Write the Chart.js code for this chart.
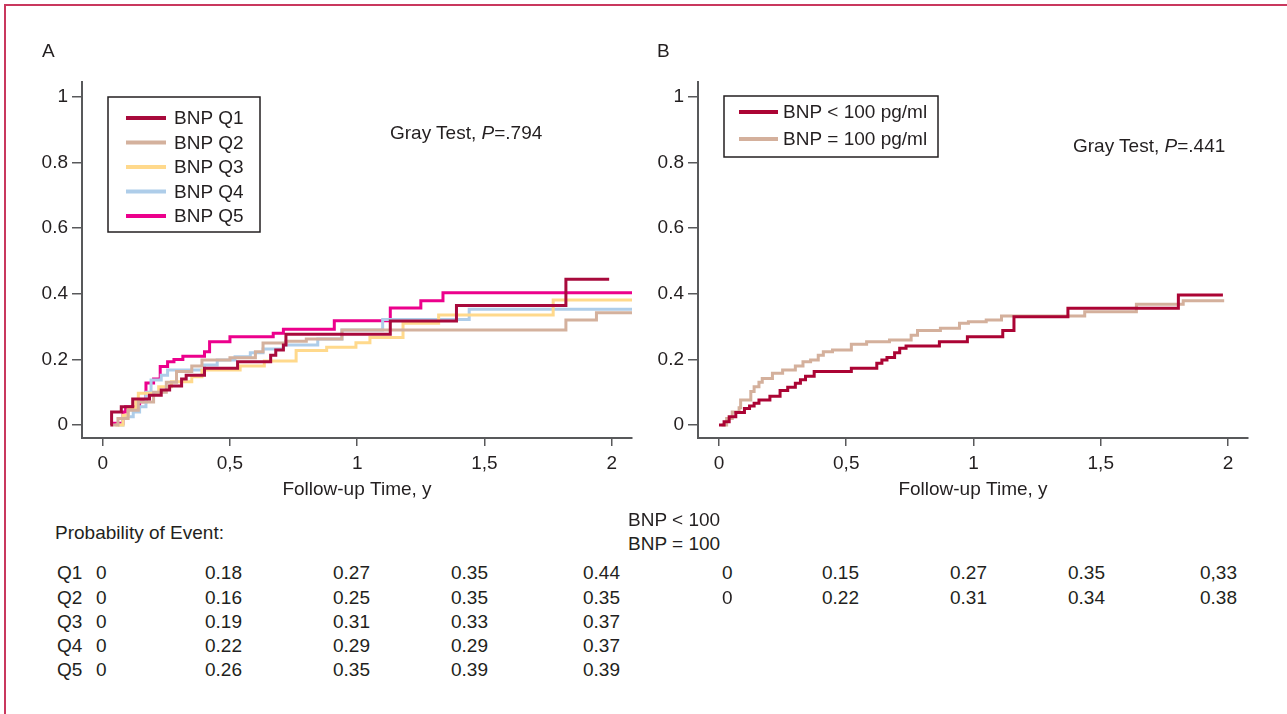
<!DOCTYPE html>
<html>
<head>
<meta charset="utf-8">
<script src="https://cdn.jsdelivr.net/npm/chart.js@4.4.1/dist/chart.umd.min.js"></script>
<style>
  body { margin: 0; background: #fff; width: 1287px; height: 714px; overflow: hidden; position: relative;
         font-family: 'Liberation Sans', Arial, sans-serif; color: #231f20; }
  .frame { position: absolute; left: 4px; top: 4px; width: 1300px; height: 730px; border: 2px solid #c9385e; }
  canvas { position: absolute; top: 0; }
  .txt { position: absolute; font-size: 19px; line-height: 24px; white-space: nowrap; }
</style>
</head>
<body>
<div class="frame"></div>
<canvas id="chartA" width="660" height="510" style="left:0px"></canvas>
<canvas id="chartB" width="660" height="510" style="left:616px"></canvas>
<div id="texts"></div>
<script>
// axis ticks
const xTicks = [0, 0.5, 1, 1.5, 2]
const xTickLabels = ['0', '0,5', '1', '1,5', '2']
const yTicks = [0, 0.2, 0.4, 0.6, 0.8, 1]
const yTickLabels = ['0', '0.2', '0.4', '0.6', '0.8', '1']

// panel A: BNP quintiles, cumulative incidence (time in years)
const quartileNames = ['BNP Q1', 'BNP Q2', 'BNP Q3', 'BNP Q4', 'BNP Q5']
const quartileColors = ['#a80a3c', '#d4b19d', '#ffd98c', '#aecde9', '#ec008c']
const q1Time = [0.03, 0.035, 0.073, 0.118, 0.184, 0.23, 0.263, 0.31, 0.328, 0.4, 0.53, 0.66, 0.68, 0.71, 0.72, 1.13, 1.39, 1.82, 1.99]
const q1Prob = [0.0, 0.04, 0.056, 0.079, 0.091, 0.107, 0.119, 0.14, 0.152, 0.173, 0.193, 0.213, 0.229, 0.244, 0.277, 0.317, 0.364, 0.444, 0.444]
const q2Time = [0.04, 0.06, 0.1, 0.14, 0.2, 0.25, 0.29, 0.35, 0.39, 0.5, 0.6, 0.63, 0.72, 0.8, 0.94, 1.82, 1.94, 2.09]
const q2Prob = [0.0, 0.02, 0.045, 0.07, 0.1, 0.13, 0.163, 0.18, 0.198, 0.205, 0.223, 0.25, 0.255, 0.262, 0.29, 0.32, 0.342, 0.342]
const q3Time = [0.05, 0.08, 0.1, 0.13, 0.14, 0.22, 0.27, 0.35, 0.39, 0.54, 0.635, 0.76, 0.88, 0.995, 1.05, 1.18, 1.32, 1.77, 2.1]
const q3Prob = [0.0, 0.03, 0.05, 0.071, 0.097, 0.117, 0.132, 0.147, 0.168, 0.18, 0.195, 0.227, 0.237, 0.251, 0.267, 0.31, 0.335, 0.381, 0.381]
const q4Time = [0.06, 0.08, 0.12, 0.145, 0.17, 0.19, 0.23, 0.255, 0.4, 0.45, 0.52, 0.58, 0.63, 0.71, 0.845, 0.94, 1.1, 1.44, 2.08]
const q4Prob = [0.0, 0.025, 0.04, 0.056, 0.1, 0.137, 0.152, 0.168, 0.183, 0.198, 0.208, 0.22, 0.232, 0.244, 0.262, 0.29, 0.322, 0.353, 0.353]
const q5Time = [0.035, 0.08, 0.09, 0.145, 0.17, 0.2, 0.226, 0.255, 0.28, 0.315, 0.4, 0.42, 0.5, 0.67, 0.71, 0.91, 1.13, 1.25, 1.337, 2.1]
const q5Prob = [0.005, 0.04, 0.056, 0.071, 0.128, 0.14, 0.178, 0.193, 0.2, 0.21, 0.223, 0.254, 0.269, 0.28, 0.292, 0.318, 0.357, 0.379, 0.403, 0.403]

// panel B: BNP cut at 100 pg/ml
const bnpNames = ['BNP < 100 pg/ml', 'BNP = 100 pg/ml']
const bnpColors = ['#ab0434', '#d4b09c']
const lowTime = [0.0, 0.02, 0.04, 0.066, 0.1, 0.12, 0.138, 0.157, 0.2, 0.24, 0.27, 0.3, 0.32, 0.34, 0.374, 0.52, 0.62, 0.64, 0.66, 0.69, 0.71, 0.735, 0.866, 0.976, 1.115, 1.159, 1.371, 1.805, 1.98]
const lowProb = [0.0, 0.01, 0.025, 0.038, 0.05, 0.058, 0.066, 0.076, 0.088, 0.105, 0.115, 0.127, 0.138, 0.149, 0.163, 0.173, 0.188, 0.198, 0.206, 0.22, 0.234, 0.241, 0.254, 0.269, 0.288, 0.33, 0.356, 0.396, 0.396]
const highTime = [0.01, 0.03, 0.052, 0.079, 0.085, 0.125, 0.138, 0.157, 0.17, 0.21, 0.25, 0.3, 0.33, 0.36, 0.39, 0.41, 0.446, 0.52, 0.58, 0.67, 0.755, 0.78, 0.87, 0.945, 0.98, 1.05, 1.11, 1.437, 1.64, 1.824, 1.985]
const highProb = [0.0, 0.02, 0.04, 0.053, 0.076, 0.102, 0.117, 0.13, 0.142, 0.158, 0.168, 0.18, 0.193, 0.198, 0.213, 0.223, 0.229, 0.246, 0.254, 0.259, 0.274, 0.288, 0.295, 0.31, 0.315, 0.32, 0.332, 0.345, 0.368, 0.379, 0.379]

// probability-of-event tables
const tableRowsA = ['Q1', 'Q2', 'Q3', 'Q4', 'Q5']
const tableValuesA = [
    ['0', '0.18', '0.27', '0.35', '0.44'],
    ['0', '0.16', '0.25', '0.35', '0.35'],
    ['0', '0.19', '0.31', '0.33', '0.37'],
    ['0', '0.22', '0.29', '0.29', '0.37'],
    ['0', '0.26', '0.35', '0.39', '0.39']
]
const tableRowsB = ['BNP < 100', 'BNP = 100']
const tableValuesB = [
    ['0', '0.15', '0.27', '0.35', '0,33'],
    ['0', '0.22', '0.31', '0.34', '0.38']
]

const FONT = "'Liberation Sans', Arial, sans-serif"
const INK = '#231f20'
const AXIS = '#58595b'

Chart.defaults.font.family = FONT
Chart.defaults.font.size = 19
Chart.defaults.color = INK

const toPoints = (times, probs) => times.map((t, i) => ({ x: t, y: probs[i] }))

// legend drawn as a framed box inside the plot
const boxLegend = {
    id: 'boxLegend',
    afterDraw(chart, args, opts) {
        const ctx = chart.ctx
        ctx.save()
        ctx.strokeStyle = INK
        ctx.lineWidth = 1.5
        ctx.strokeRect(opts.left, opts.top, opts.width, opts.height)
        ctx.font = `19px ${FONT}`
        ctx.textBaseline = 'middle'
        chart.data.datasets.forEach((ds, i) => {
            const y = opts.firstRow + i * opts.rowGap
            ctx.strokeStyle = ds.borderColor
            ctx.lineWidth = 4
            ctx.beginPath()
            ctx.moveTo(opts.lineX, y)
            ctx.lineTo(opts.lineX + opts.lineLen, y)
            ctx.stroke()
            ctx.fillStyle = INK
            ctx.fillText(ds.label, opts.textX, y + 1)
        })
        ctx.restore()
    }
}

const makeOptions = (xMin, xMax, legendOpts) => ({
    responsive: false,
    animation: false,
    devicePixelRatio: 1,
    layout: { padding: { left: 0, top: 82, right: 28, bottom: 0 } },
    plugins: { legend: { display: false }, tooltip: { enabled: false }, boxLegend: legendOpts },
    scales: {
        x: {
            type: 'linear',
            min: xMin,
            max: xMax,
            afterBuildTicks: s => { s.ticks = xTicks.map(v => ({ value: v })) },
            afterFit: s => { s.height = 72 },
            ticks: { callback: (v, i) => xTickLabels[i], padding: 6, maxRotation: 0, color: INK },
            grid: { drawOnChartArea: false, tickLength: 8, color: AXIS, lineWidth: 1.5 },
            border: { color: AXIS, width: 2 },
            title: { display: true, text: 'Follow-up Time, y', color: INK, padding: { top: 0, bottom: 9 } }
        },
        y: {
            type: 'linear',
            min: -0.0396,
            max: 1.0457,
            afterBuildTicks: s => { s.ticks = yTicks.map(v => ({ value: v })) },
            afterFit: s => { s.width = 82 },
            ticks: { callback: (v, i) => yTickLabels[i], padding: 4, color: INK },
            grid: { drawOnChartArea: false, tickLength: 10, color: AXIS, lineWidth: 1.5 },
            border: { color: AXIS, width: 2 }
        }
    }
})

// 'before': hold the previous value, then jump at the event time
const stepLine = (label, color, times, probs) => ({
    label: label,
    data: toPoints(times, probs),
    borderColor: color,
    borderWidth: 3,
    stepped: 'before',
    pointRadius: 0,
    fill: false
})

new Chart(document.getElementById('chartA'), {
    type: 'line',
    data: {
        datasets: [
            stepLine(quartileNames[0], quartileColors[0], q1Time, q1Prob),
            stepLine(quartileNames[1], quartileColors[1], q2Time, q2Prob),
            stepLine(quartileNames[2], quartileColors[2], q3Time, q3Prob),
            stepLine(quartileNames[3], quartileColors[3], q4Time, q4Prob),
            stepLine(quartileNames[4], quartileColors[4], q5Time, q5Prob)
        ]
    },
    options: makeOptions(-0.0813, 2.0797,
        { left: 108, top: 97, width: 152, height: 135, lineX: 126, lineLen: 40, textX: 174, firstRow: 118, rowGap: 24.5 }),
    plugins: [boxLegend]
})

new Chart(document.getElementById('chartB'), {
    type: 'line',
    data: {
        datasets: [
            stepLine(bnpNames[0], bnpColors[0], lowTime, lowProb),
            stepLine(bnpNames[1], bnpColors[1], highTime, highProb)
        ]
    },
    options: makeOptions(-0.0825, 2.0786,
        { left: 108, top: 96, width: 214, height: 61, lineX: 123, lineLen: 39, textX: 167, firstRow: 112, rowGap: 27 }),
    plugins: [boxLegend]
})

// free text: panel letters, test results, tables
const texts = document.getElementById('texts')
const put = (str, x, cy, html) => {
    const d = document.createElement('div')
    d.className = 'txt'
    d.style.left = x + 'px'
    d.style.top = (cy - 12) + 'px'
    if (html) d.innerHTML = str
    else d.textContent = str
    texts.appendChild(d)
}
put('A', 42, 51)
put('B', 657, 51)
put('Gray Test, <i>P</i>=.794', 390, 133, true)
put('Gray Test, <i>P</i>=.441', 1073, 146, true)

put('Probability of Event:', 55, 533)
const colsA = [96, 205, 333, 451, 583]
const rowYA = [573, 598, 622, 646, 670]
tableRowsA.forEach((name, r) => {
    put(name, 57, rowYA[r])
    tableValuesA[r].forEach((v, c) => put(v, colsA[c], rowYA[r]))
})
put(tableRowsB[0], 628, 520)
put(tableRowsB[1], 628, 544)
const colsB = [722, 822, 950, 1068, 1200]
tableValuesB.forEach((vals, r) => {
    vals.forEach((v, c) => put(v, colsB[c], rowYA[r]))
})
</script>
</body>
</html>
